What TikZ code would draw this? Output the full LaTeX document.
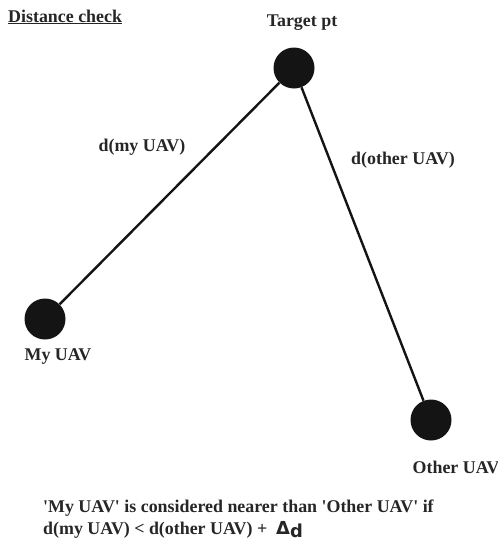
\documentclass[tikz,border=0pt]{standalone}
\usepackage{fontspec}
\setmainfont{Liberation Serif}
\newfontfamily\deltafont{DejaVu Sans}
\newcommand{\sq}{\textquotesingle}
\begin{document}
\begin{tikzpicture}[x=1pt,y=-1pt,
  pt/.style={circle,fill=black!92,minimum size=41pt,inner sep=0pt},
  lbl/.style={font=\fontsize{17.9}{20}\selectfont\bfseries,text=black!85,inner sep=0pt},
  link/.style={line width=2.4pt,black!92}]
\useasboundingbox (0,0) rectangle (498,541);
% points
\node[pt] (target) at (294,68) {};
\node[pt] (my) at (45,319) {};
\node[pt] (other) at (431,420) {};
% distances
\draw[link] (target) -- (my);
\draw[link] (target) -- (other);
% labels
\node[lbl,anchor=west] (title) at (8,17) {\underline{Distance check}};
\node[lbl] (tlab) at (302,23) {Target pt};
\node[lbl] (mlab) at (58,357) {My UAV};
\node[lbl] (olab) at (456,467) {Other UAV};
\node[lbl] (dmy) at (142,147) {d(my UAV)};
\node[lbl] (dother) at (403,160) {d(other UAV)};
\node[lbl,anchor=west] (rule1) at (43,508) {\sq My UAV\sq{} is considered nearer than \sq Other UAV\sq{} if};
\node[lbl,anchor=west] (rule2) at (43,530) {d(my UAV) < d(other UAV) +\ \ {\deltafont Δ}\raisebox{-3pt}{\deltafont d}};
\end{tikzpicture}
\end{document}
